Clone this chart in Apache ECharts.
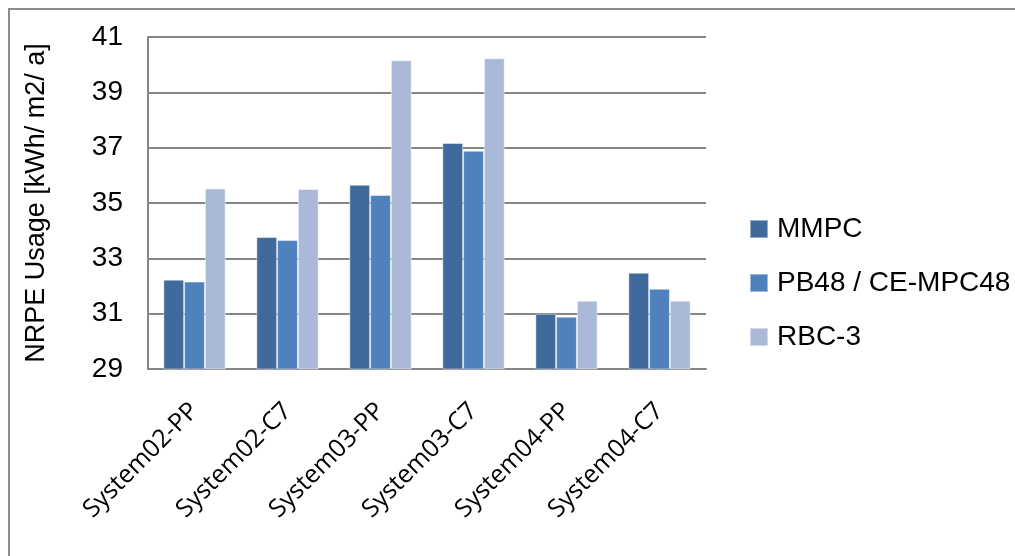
<!DOCTYPE html>
<html>
<head>
<meta charset="utf-8">
<script src="https://cdn.jsdelivr.net/npm/echarts@6/dist/echarts.min.js"></script>
<style>
  html, body { margin: 0; padding: 0; background: #fff; }
  #chart { width: 1015px; height: 556px; }
</style>
</head>
<body>
<div id="chart"></div>
<script>
// NRPE usage per system configuration and control strategy
const categories = ['System02-PP', 'System02-C7', 'System03-PP', 'System03-C7', 'System04-PP', 'System04-C7'];
const seriesNames = ['MMPC', 'PB48 / CE-MPC48', 'RBC-3'];
const mmpc = [32.23, 33.77, 35.66, 37.17, 31.0, 32.48];
const pb48 = [32.16, 33.66, 35.29, 36.89, 30.89, 31.9];
const rbc3 = [35.52, 35.51, 40.16, 40.23, 31.47, 31.47];
const yTicks = [29, 31, 33, 35, 37, 39, 41];

const colors = ['#406a9c', '#4f81bd', '#aab9d8'];
const values = [mmpc, pb48, rbc3];

const chart = echarts.init(document.getElementById('chart'), null, { renderer: 'canvas' });

const sansFont = '"Liberation Sans", Arial, sans-serif';

chart.setOption({
  animation: false,
  backgroundColor: '#ffffff',
  color: colors,
  graphic: [{
    type: 'rect',
    shape: { x: 9, y: 9, width: 1100, height: 600 },
    style: { fill: 'none', stroke: '#8c8c8c', lineWidth: 2 },
    silent: true,
    z: -1
  }],
  grid: { left: 148, right: 309, top: 37, bottom: 187 },
  legend: {
    orient: 'vertical',
    left: 749,
    top: 214,
    padding: 0,
    itemWidth: 18,
    itemHeight: 18,
    itemGap: 24,
    icon: 'rect',
    data: seriesNames,
    textStyle: {
      fontFamily: sansFont,
      fontSize: 28,
      color: '#000',
      lineHeight: 30,
      padding: [0, 0, 0, 4]
    }
  },
  xAxis: {
    type: 'category',
    data: categories,
    axisLine: { lineStyle: { color: '#868686', width: 2 } },
    axisTick: { show: false },
    axisLabel: {
      rotate: 45,
      margin: 38,
      interval: 0,
      fontFamily: '"Open Sans", "Noto Sans", sans-serif',
      fontSize: 25,
      color: '#000'
    }
  },
  yAxis: {
    type: 'value',
    min: yTicks[0],
    max: yTicks[yTicks.length - 1],
    interval: 2,
    name: 'NRPE Usage [kWh/ m2/ a]',
    nameLocation: 'middle',
    nameGap: 98,
    nameRotate: 90,
    nameTextStyle: { fontFamily: sansFont, fontSize: 27, color: '#000' },
    axisLine: { show: true, lineStyle: { color: '#868686', width: 2 } },
    axisTick: { show: false },
    axisLabel: {
      margin: 25,
      fontFamily: sansFont,
      fontSize: 28,
      color: '#000'
    },
    splitLine: { show: true, lineStyle: { color: '#868686', width: 2 } }
  },
  series: seriesNames.map((name, i) => ({
    name: name,
    type: 'bar',
    data: values[i],
    barGap: '0%',
    barCategoryGap: '33%',
    itemStyle: {
      color: colors[i],
      borderColor: 'rgba(255,255,255,0.45)',
      borderWidth: 1
    }
  }))
});
</script>
</body>
</html>
